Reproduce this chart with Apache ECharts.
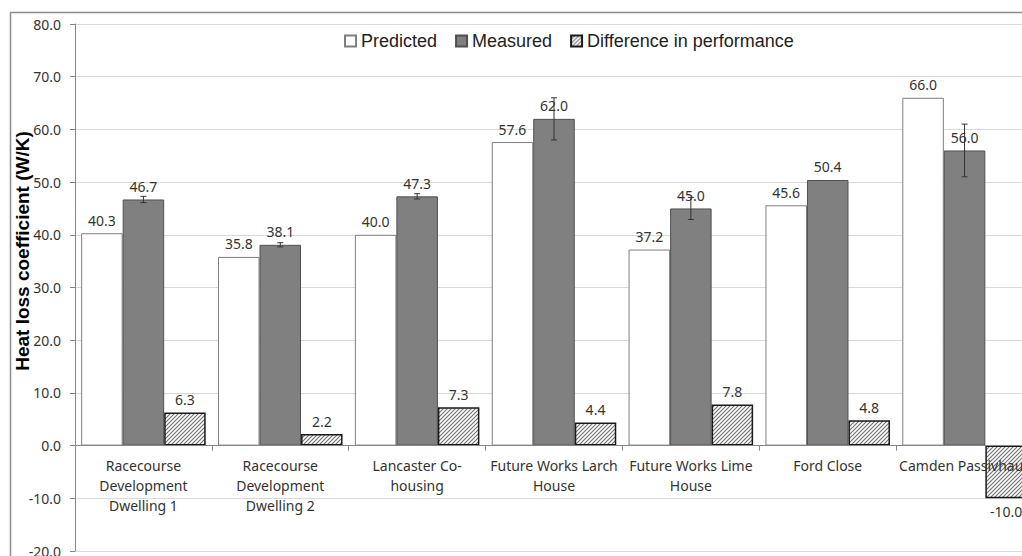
<!DOCTYPE html>
<html>
<head>
<meta charset="utf-8">
<script src="https://cdn.jsdelivr.net/npm/echarts@6/dist/echarts.min.js"></script>
<style>
html,body{margin:0;padding:0;background:#fff;}
#chart{width:1022px;height:556px;}
</style>
</head>
<body>
<div id="chart"></div>
<script>
const categories = ['Racecourse Development Dwelling 1','Racecourse Development Dwelling 2','Lancaster Co-housing','Future Works Larch House','Future Works Lime House','Ford Close','Camden Passivhaus'];
const tickLabels = ['Racecourse\nDevelopment\nDwelling 1','Racecourse\nDevelopment\nDwelling 2','Lancaster Co-\nhousing','Future Works Larch\nHouse','Future Works Lime\nHouse','Ford Close','Camden Passivhaus'];
const predicted = [40.3, 35.8, 40.0, 57.6, 37.2, 45.6, 66.0];
const measured = [46.7, 38.1, 47.3, 62.0, 45.0, 50.4, 56.0];
const difference = [6.3, 2.2, 7.3, 4.4, 7.8, 4.8, -10.0];
const measuredErr = [0.6, 0.4, 0.5, 4.0, 2.1, 0, 5.0];
const yMin = -20, yMax = 80, yStep = 10;

function hatch(){
  const c = document.createElement('canvas');
  c.width = 4; c.height = 4;
  const g = c.getContext('2d');
  g.fillStyle = '#ffffff'; g.fillRect(0,0,4,4);
  g.strokeStyle = '#6e6e6e'; g.lineWidth = 1.1;
  g.beginPath();
  g.moveTo(0,4); g.lineTo(4,0);
  g.moveTo(-1,1); g.lineTo(1,-1);
  g.moveTo(3,5); g.lineTo(5,3);
  g.stroke();
  return {image: c.toDataURL(), repeat: 'repeat'};
}

const chart = echarts.init(document.getElementById('chart'), null, {renderer:'svg'});
const labelFont = {fontFamily:'Noto Sans', fontSize:14, color:'#333'};
const valLabel = Object.assign({show:true, position:'top', distance:6, formatter:p=>Number(p.value).toFixed(1)}, labelFont);

chart.setOption({
  animation:false,
  backgroundColor:'#fff',
  graphic:[
    {type:'rect', shape:{x:10.5,y:12.5,width:1200,height:700}, style:{fill:'none', stroke:'#8c8c8c', lineWidth:1.5}, silent:true, z:-10},
    {type:'text', x:22, y:251, rotation:Math.PI/2, style:{text:'Heat loss coefficient (W/K)', fontFamily:'Liberation Sans', fontWeight:'bold', fontSize:19, fill:'#000', align:'center', verticalAlign:'middle'}}
  ],
  legend:{
    left:339, top:27, icon:'rect', itemWidth:11, itemHeight:11, itemGap:18,
    textStyle:{fontFamily:'Liberation Sans', fontSize:18, color:'#222', lineHeight:18},
    data:['Predicted','Measured','Difference in performance']
  },
  grid:{left:75, right:-11, top:24, bottom:5, containLabel:false, outerBoundsMode:'none'},
  xAxis:{
    type:'category', data:categories, offset:0, z:10,
    axisLine:{onZero:false, lineStyle:{color:'#868686', width:1}},
    axisTick:{show:true, length:5, lineStyle:{color:'#868686'}},
    axisLabel:{margin:10, interval:0, lineHeight:20, fontFamily:'Noto Sans', fontSize:14, color:'#333', formatter:(v,i)=>tickLabels[i]}
  },
  yAxis:{
    type:'value', min:yMin, max:yMax, interval:yStep,
    axisLine:{show:true, lineStyle:{color:'#868686'}},
    axisTick:{show:true, length:5, lineStyle:{color:'#868686'}},
    splitLine:{lineStyle:{color:'#d9d9d9'}},
    axisLabel:{margin:14, fontFamily:'Noto Sans', fontSize:14, color:'#333', formatter:v=>v.toFixed(1)}
  },
  series:[
    {name:'Predicted', type:'bar', data:predicted, barGap:'0%', barCategoryGap:'9%',
     itemStyle:{color:'#ffffff', borderColor:'#7f7f7f', borderWidth:1}, label:valLabel},
    {name:'Measured', type:'bar', data:measured, barGap:'0%', barCategoryGap:'9%',
     itemStyle:{color:'#808080', borderColor:'#505050', borderWidth:1}, label:valLabel},
    {name:'Difference in performance', type:'bar', barGap:'0%', barCategoryGap:'9%',
     data:difference.map(v=>v<0?{value:v,label:{position:'bottom'}}:v),
     itemStyle:{color:hatch(), borderColor:'#1a1a1a', borderWidth:1.5}, label:valLabel},
    {name:'err', type:'custom', z:5,
     data:measured.map((m,i)=>[i, m-measuredErr[i], m+measuredErr[i], measuredErr[i]]),
     renderItem:function(params, api){
       if(api.value(3) <= 0) return null;
       const lo = api.coord([api.value(0), api.value(1)]);
       const hi = api.coord([api.value(0), api.value(2)]);
       const x = lo[0], w = 3;
       const st = {stroke:'#333', lineWidth:1};
       return {type:'group', children:[
         {type:'line', shape:{x1:x,y1:lo[1],x2:x,y2:hi[1]}, style:st},
         {type:'line', shape:{x1:x-w,y1:lo[1],x2:x+w,y2:lo[1]}, style:st},
         {type:'line', shape:{x1:x-w,y1:hi[1],x2:x+w,y2:hi[1]}, style:st}
       ]};
     }}
  ]
});
// place the category axis on the zero value line using the library's own scale
const zeroY = chart.convertToPixel({yAxisIndex:0}, 0);
const minY = chart.convertToPixel({yAxisIndex:0}, yMin);
chart.setOption({xAxis:{offset: zeroY - minY}});
</script>
</body>
</html>
